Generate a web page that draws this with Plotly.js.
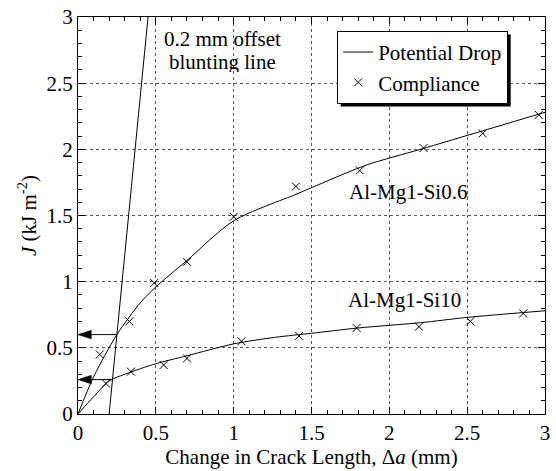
<!DOCTYPE html>
<html>
<head>
<meta charset="utf-8">
<script src="https://cdn.plot.ly/plotly-3.0.1.min.js"></script>
<style>html,body{margin:0;padding:0;background:#fff;}#chart{width:556px;height:471px;}</style>
</head>
<body>
<div id="chart"></div>
<script>
// ---- data ----
// Potential-drop curves (lines)
const pdSi06X = [0, 0.1, 0.25, 0.4, 0.5, 0.7, 1.0, 1.4, 1.5, 1.85, 2.2, 2.6, 3.0];
const pdSi06Y = [0, 0.28, 0.60, 0.84, 0.96, 1.16, 1.46, 1.66, 1.71, 1.88, 2.00, 2.14, 2.28];
const pdSi10X = [0, 0.1, 0.2, 0.3, 0.5, 0.7, 1.0, 1.27, 1.5, 1.8, 2.2, 2.5, 3.0];
const pdSi10Y = [0, 0.13, 0.25, 0.30, 0.38, 0.44, 0.53, 0.58, 0.61, 0.65, 0.69, 0.73, 0.78];
// Compliance points (x markers)
const cSi06X = [0.14, 0.33, 0.49, 0.70, 1.00, 1.40, 1.81, 2.22, 2.60, 2.96];
const cSi06Y = [0.45, 0.70, 0.99, 1.15, 1.49, 1.72, 1.84, 2.01, 2.12, 2.26];
const cSi10X = [0.18, 0.34, 0.55, 0.70, 1.05, 1.42, 1.79, 2.19, 2.52, 2.86];
const cSi10Y = [0.23, 0.32, 0.37, 0.42, 0.55, 0.59, 0.65, 0.66, 0.70, 0.76];
// 0.2 mm offset blunting line
const bluntX = [0.2, 0.45];
const bluntY = [0, 3];
// J values where the curves meet the blunting line (arrows to the J axis)
const jqX = [0.248, 0.216];
const jqY = [0.60, 0.26];
const jAxisX = 0;
// labels
const alloyNames = ['Al-Mg1-Si0.6', 'Al-Mg1-Si10'];
const alloyLabelX = [2.12, 2.10];
const alloyLabelY = [1.68, 0.86];
const bluntLabel = ['0.2 mm offset', 'blunting line'];
const bluntLabelX = [0.93, 0.93];
const bluntLabelY = [2.835, 2.66];
const ticks = [0, 0.5, 1, 1.5, 2, 2.5, 3];

const FONT = '"Liberation Serif", "Times New Roman", serif';
const fnt = (s) => ({family: FONT, size: s, color: '#000'});

const lineStyle = {color: '#000', width: 1};
const mk = {symbol: 'x-thin-open', size: 8, color: '#000', line: {color: '#000', width: 1}};

const traces = [
  {x: pdSi06X, y: pdSi06Y, mode: 'lines', line: Object.assign({shape: 'spline', smoothing: 0.8}, lineStyle),
   name: 'Potential Drop', showlegend: true},
  {x: cSi06X, y: cSi06Y, mode: 'markers', marker: mk, name: 'Compliance', showlegend: true},
  {x: pdSi10X, y: pdSi10Y, mode: 'lines', line: Object.assign({shape: 'spline', smoothing: 0.8}, lineStyle),
   name: 'Potential Drop', showlegend: false},
  {x: cSi10X, y: cSi10Y, mode: 'markers', marker: mk, name: 'Compliance', showlegend: false},
  {x: bluntX, y: bluntY, mode: 'lines', line: lineStyle, showlegend: false, name: 'blunting line'}
];
for (let i = 0; i < jqX.length; i++) {
  traces.push({x: [jqX[i], jAxisX], y: [jqY[i], jqY[i]], mode: 'lines+markers', line: lineStyle,
    marker: {symbol: 'arrow', angle: -90, size: [0, 14], color: '#000', opacity: 1, line: {width: 0.5, color: '#000'}},
    showlegend: false, name: 'J arrow'});
}

const annotations = [];
for (let i = 0; i < alloyNames.length; i++) {
  annotations.push({x: alloyLabelX[i], y: alloyLabelY[i], xref: 'x', yref: 'y', text: alloyNames[i],
    showarrow: false, font: fnt(21)});
}
for (let i = 0; i < bluntLabel.length; i++) {
  annotations.push({x: bluntLabelX[i], y: bluntLabelY[i], xref: 'x', yref: 'y', text: bluntLabel[i],
    showarrow: false, font: fnt(21), height: 21, borderpad: 0});
}

const axisCommon = {
  range: [0, 3], tickvals: ticks, ticks: 'inside', ticklen: 7, tickwidth: 1, tickcolor: '#000',
  showline: true, linecolor: '#000', linewidth: 1, mirror: 'allticks',
  showgrid: true, gridcolor: '#555', gridwidth: 1, griddash: 'dot', zeroline: false,
  tickfont: fnt(21),
  minor: {dtick: 0.1, ticks: 'inside', ticklen: 4, tickcolor: '#000', tickwidth: 1, showgrid: false}
};

const layout = {
  width: 556, height: 471,
  margin: {l: 78, r: 11, t: 17, b: 57},
  paper_bgcolor: '#fff', plot_bgcolor: '#fff',
  font: fnt(21),
  showlegend: true,
  legend: {x: 0.555, y: 0.965, xanchor: 'left', yanchor: 'top', bgcolor: '#fff',
    bordercolor: '#000', borderwidth: 1, font: fnt(21), tracegroupgap: 0, traceorder: 'normal'},
  xaxis: Object.assign({}, axisCommon, {title: {text: 'Change in Crack Length, Δ<i>a</i> (mm)', font: fnt(21), standoff: 0}}),
  yaxis: Object.assign({}, axisCommon, {title: {text: '<i>J</i> (kJ m<sup>-2</sup>)', font: fnt(21), standoff: 4}}),
  annotations: annotations
};

Plotly.newPlot('chart', traces, layout, {displayModeBar: false, staticPlot: true}).then(function (gd) {
  const bg = gd.querySelector('.legend rect.bg');
  if (!bg) return;
  const r = bg.getBoundingClientRect();
  const g = gd.getBoundingClientRect();
  const s = gd._fullLayout._size;
  const px2x = (px) => (px - g.left - s.l) / s.w;
  const px2y = (py) => 1 - (py - g.top - s.t) / s.h;
  const off = 3;
  return Plotly.relayout(gd, {shapes: [{type: 'rect', xref: 'paper', yref: 'paper', layer: 'above',
    x0: px2x(r.left + off), x1: px2x(r.right + off), y0: px2y(r.bottom + off), y1: px2y(r.top + off),
    fillcolor: '#000', line: {width: 0}}]});
});
</script>
</body>
</html>
